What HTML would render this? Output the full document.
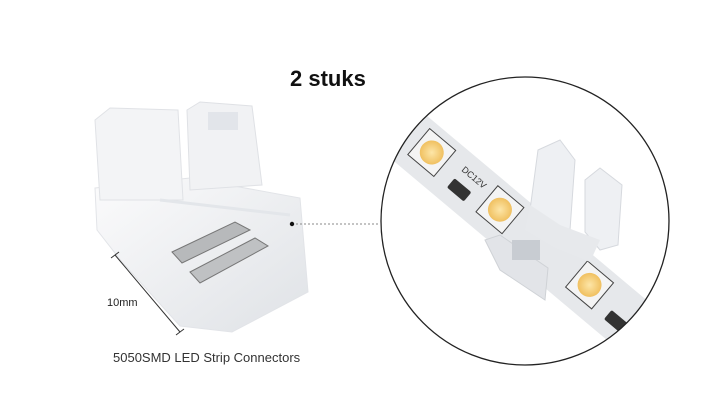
<!DOCTYPE html>
<html><head><meta charset="utf-8"><style>
html,body{margin:0;padding:0;background:#fff;}
body{width:726px;height:411px;overflow:hidden;position:relative;font-family:"Liberation Sans",sans-serif;}
</style></head><body>
<svg width="726" height="411" viewBox="0 0 726 411" xmlns="http://www.w3.org/2000/svg" style="position:absolute;left:0;top:0">
<defs>
<linearGradient id="pl" x1="0" y1="0" x2="1" y2="1"><stop offset="0" stop-color="#fbfbfc"/><stop offset="1" stop-color="#dfe2e6"/></linearGradient>
<radialGradient id="led"><stop offset="0" stop-color="#fde6a8"/><stop offset="1" stop-color="#f0c060"/></radialGradient>
<clipPath id="cc"><circle cx="525" cy="221" r="144"/></clipPath>
</defs>
<text x="290" y="86" font-family="Liberation Sans" font-weight="bold" font-size="22" fill="#111">2 stuks</text>

<!-- left connector -->
<polygon points="95,188 190,178 300,198 308,292 232,332 180,326 122,262 97,230" fill="url(#pl)" stroke="#e2e4e8"/>
<polygon points="95,120 110,108 178,110 183,200 100,200" fill="#f3f4f6" stroke="#e0e2e6"/>
<polygon points="187,110 200,102 252,106 262,185 190,190" fill="#f1f2f4" stroke="#dfe1e5"/>
<rect x="208" y="112" width="30" height="18" fill="#e2e5ea"/>
<line x1="160" y1="200" x2="290" y2="215" stroke="#e3e6ea" stroke-width="3"/>
<path d="M172 252 L235 222 L250 230 L182 263 Z" fill="#b7b9bb" stroke="#777"/>
<path d="M190 272 L255 238 L268 246 L200 283 Z" fill="#bfc1c3" stroke="#777"/>
<line x1="115" y1="255" x2="180" y2="332" stroke="#333" stroke-width="1"/>
<line x1="111" y1="258" x2="119" y2="252" stroke="#333"/>
<line x1="176" y1="335" x2="184" y2="329" stroke="#333"/>
<text x="107" y="306" font-size="11" fill="#222">10mm</text>
<text x="113" y="362" font-size="13" fill="#333">5050SMD LED Strip Connectors</text>

<circle cx="292" cy="224" r="2.2" fill="#111"/>
<line x1="296" y1="224" x2="380" y2="224" stroke="#888" stroke-dasharray="2,2"/>

<g clip-path="url(#cc)">
<g transform="translate(498,212) rotate(40)">
<rect x="-200" y="-28" width="400" height="56" fill="#e6e8eb"/>
<rect x="-106" y="-20" width="34" height="34" fill="#f4f4f4" stroke="#444"/>
<circle cx="-89" cy="-3" r="12" fill="url(#led)"/>
<rect x="-17" y="-20" width="34" height="34" fill="#f4f4f4" stroke="#444"/>
<circle cx="0" cy="-3" r="12" fill="url(#led)"/>
<rect x="100" y="-20" width="34" height="34" fill="#f4f4f4" stroke="#444"/>
<circle cx="117" cy="-3" r="12" fill="url(#led)"/>
<rect x="-140" y="-12" width="22" height="12" fill="#333" rx="2"/>
<rect x="-55" y="2" width="22" height="12" fill="#333" rx="2"/>
<rect x="150" y="2" width="22" height="12" fill="#333" rx="2"/>
<text x="-55" y="-8" font-size="9" fill="#333">DC12V</text>
</g>
</g>
<!-- connector in circle -->
<polygon points="538,150 560,140 575,160 570,230 545,240 530,210" fill="#eef0f3" stroke="#d6d9de"/>
<polygon points="585,180 600,168 622,185 618,245 600,250 585,232" fill="#eef0f3" stroke="#d6d9de"/>
<polygon points="530,205 560,225 600,240 590,262 555,248 525,230" fill="#e7e9ec"/>
<polygon points="485,240 500,235 548,268 545,300 500,270" fill="#e2e4e8" stroke="#cfd2d6"/>
<rect x="512" y="240" width="28" height="20" fill="#c8ccd2"/>
<circle cx="525" cy="221" r="144" fill="none" stroke="#222" stroke-width="1.3"/>
</svg>
</body></html>
